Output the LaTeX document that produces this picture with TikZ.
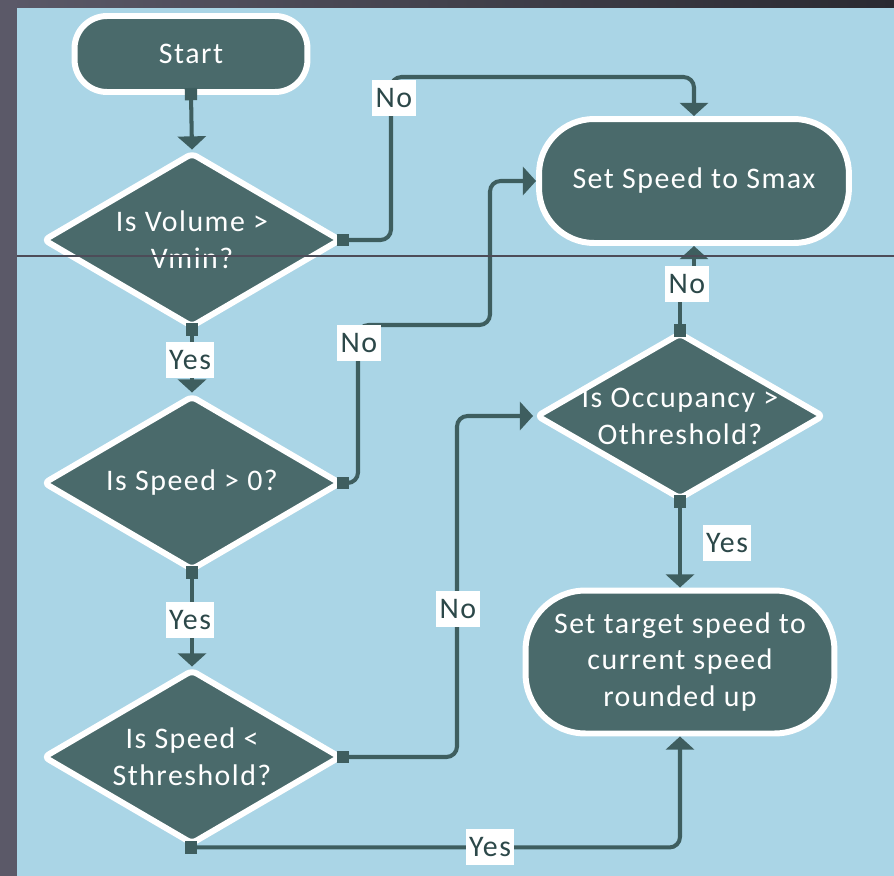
\documentclass[tikz,border=0pt]{standalone}
\usepackage{fontspec}
\setmainfont{Carlito}[LetterSpace=5]
\usetikzlibrary{shapes.geometric,arrows.meta}
\definecolor{bgblue}{HTML}{AAD5E6}
\definecolor{boxfill}{HTML}{4A6A6B}
\definecolor{linec}{HTML}{3E5E5F}
\definecolor{lbltext}{HTML}{2C4849}
\definecolor{frameA}{HTML}{5B5968}
\definecolor{frameB}{HTML}{2A2A31}

\begin{document}
\begin{tikzpicture}[x=0.02cm, y=-0.02cm,
        font=\fontsize{17}{21}\selectfont,
        term/.style={rectangle, rounded corners=0.65cm, fill=boxfill, draw=white, line width=3.4pt,
            text=white, align=center, inner sep=0pt},
        decision/.style={diamond, aspect=1.7, rounded corners=3pt, fill=boxfill, draw=white, line width=3.4pt,
            text=white, align=center, inner sep=-12pt},
        lbl/.style={fill=white, text=lbltext, inner xsep=2pt, inner ysep=1pt, minimum height=0.72cm},
        conn/.style={draw=linec, line width=2.3pt, rounded corners=6pt, shorten <=-4pt,
            {Square[length=7pt,width=7pt]}-{Triangle[width=16pt,length=7.5pt]}}]
        \useasboundingbox (0,0) rectangle (894,876);

        % Sfondo e cornice
        \fill[bgblue] (17,7) rectangle (894,876);
        \shade[left color=frameA, right color=frameB] (0,0) rectangle (894,7);
        \fill[frameA] (0,0) rectangle (17,876);

        % Colonna sinistra
        \node[term, minimum width=4.66cm, minimum height=1.52cm] (start) at (191,54) {Start};
        \node[decision, minimum width=5.96cm, minimum height=3.5cm] (vol) at (192,240) {Is Volume >\\Vmin?};
        \node[decision, minimum width=5.96cm, minimum height=3.5cm] (spd) at (192,483) {Is Speed > 0?};
        \node[decision, minimum width=5.96cm, minimum height=3.5cm] (sth) at (192,757) {Is Speed <\\Sthreshold?};

        % Colonna destra
        \node[term, rounded corners=1.1cm, minimum width=6.2cm, minimum height=2.48cm] (smax) at (694,181) {Set Speed to Smax};
        \node[decision, minimum width=5.76cm, minimum height=3.34cm] (occ) at (680,416) {Is Occupancy >\\Othreshold?};
        \node[term, rounded corners=1.2cm, minimum width=6.18cm, minimum height=2.86cm] (target) at (680,662) {Set target speed to\\current speed\\rounded up};

        % Punti di piega
        \coordinate (c1) at (391,77);
        \coordinate (c2) at (358,325);
        \coordinate (c3) at (490,181);
        \coordinate (c4) at (457,416);
        \coordinate (c5) at (680,285);

        % Connettori
        \draw[conn] (start.south) -- (vol.north);
        \draw[conn] (vol.east) -| (c1) -| (smax.north);
        \draw[conn] (vol.south) -- (spd.north);
        \draw[conn] (spd.east) -| (c2) -| (c3) -- (smax.west);
        \draw[conn] (spd.south) -- (sth.north);
        \draw[conn] (sth.east) -| (c4) -- (occ.west);
        \draw[conn] (sth.south) -| (target.south);
        \draw[conn] (occ.south) -- (target.north);
        \draw[conn, sharp corners] (occ.north) -- (c5) -| (smax.south);

        % Etichette
        \node[lbl] (no1) at (394,98) {No};
        \node[lbl] (yes1) at (190,360) {Yes};
        \node[lbl] (no2) at (359,343) {No};
        \node[lbl] (yes2) at (190,620) {Yes};
        \node[lbl] (no3) at (458,609) {No};
        \node[lbl] (yes3) at (490,847) {Yes};
        \node[lbl] (yes4) at (727,543) {Yes};
        \node[lbl] (no4) at (687,284) {No};

        \draw[frameA!85!black, line width=0.6pt] (17,256) -- (894,256);
    \end{tikzpicture}
\end{document}
